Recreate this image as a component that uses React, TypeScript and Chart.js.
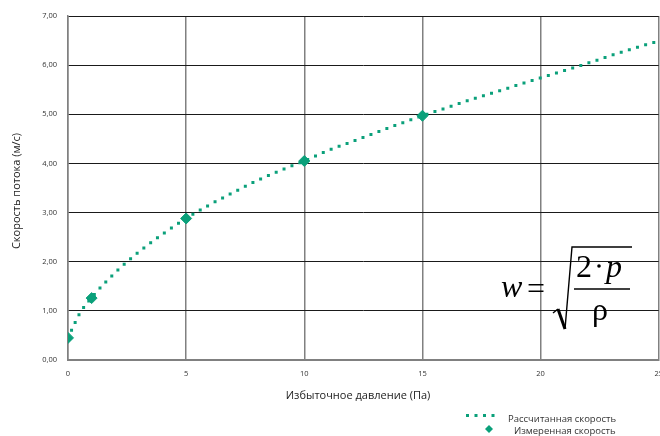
import React, { useEffect, useRef } from "react";
import { Chart, registerables } from "chart.js";

Chart.register(...registerables);

const curveP = [0, 0.5, 1, 2, 3, 4, 5, 6, 7, 8, 9, 10, 11, 12, 13, 14, 15, 16, 17, 18, 19, 20, 21, 22, 23, 24, 25];
const curveW = [0.45, 0.95, 1.27, 1.78, 2.2, 2.56, 2.88, 3.16, 3.41, 3.65, 3.86, 4.05, 4.26, 4.44, 4.62, 4.8, 4.97, 5.13, 5.29, 5.44, 5.59, 5.74, 5.89, 6.04, 6.2, 6.35, 6.49];
const measuredP = [0, 1, 5, 10, 15];
const measuredW = [0.45, 1.26, 2.88, 4.05, 4.97];
const xTicks = [0, 5, 10, 15, 20, 25];
const yTicks = [0, 1, 2, 3, 4, 5, 6, 7];

const seriesNames = ["Рассчитанная скорость", "Измеренная скорость"];
const xTitle = "Избыточное давление (Па)";
const yTitle = "Скорость потока (м/с)";

const GREEN = "#0aa07a";
const FONT = "'Open Sans', 'Noto Sans', sans-serif";
const SERIF = "'Liberation Serif', 'DejaVu Serif', serif";
const CANVAS_W = 666;

const overlay = {
  id: "overlay",
  afterDraw(chart: any) {
    const ctx = chart.ctx as CanvasRenderingContext2D;
    ctx.save();
    // axis titles
    ctx.fillStyle = "#222";
    ctx.font = `11px ${FONT}`;
    ctx.textAlign = "center";
    ctx.textBaseline = "middle";
    ctx.fillText(xTitle, 358, 396);
    ctx.save();
    ctx.translate(17, 191);
    ctx.rotate(-Math.PI / 2);
    ctx.fillText(yTitle, 0, 0);
    ctx.restore();

    // legend
    ctx.font = `9.5px ${FONT}`;
    ctx.textAlign = "left";
    ctx.fillStyle = GREEN;
    for (let i = 0; i < 4; i++) {
      ctx.fillRect(466 + i * 8.5, 414, 3, 3);
    }
    ctx.fillStyle = "#333";
    ctx.fillText(seriesNames[0], 508, 419);
    ctx.fillStyle = GREEN;
    ctx.beginPath();
    ctx.moveTo(489, 425);
    ctx.lineTo(493, 429);
    ctx.lineTo(489, 433);
    ctx.lineTo(485, 429);
    ctx.closePath();
    ctx.fill();
    ctx.fillStyle = "#333";
    ctx.fillText(seriesNames[1], 514, 431);

    // formula
    ctx.fillStyle = "#000";
    ctx.strokeStyle = "#000";
    ctx.textBaseline = "alphabetic";
    ctx.font = `italic 32px ${SERIF}`;
    ctx.fillText("w", 501, 297);
    ctx.font = `32px ${SERIF}`;
    ctx.fillText("=", 527, 299);
    ctx.fillText("2", 576, 277);
    ctx.beginPath();
    ctx.arc(599, 266, 1.8, 0, Math.PI * 2);
    ctx.fill();
    ctx.font = `italic 32px ${SERIF}`;
    ctx.fillText("p", 606, 277);
    ctx.font = `32px ${SERIF}`;
    ctx.fillText("ρ", 592, 320);
    // fraction bar
    ctx.lineWidth = 1.6;
    ctx.beginPath();
    ctx.moveTo(574, 289);
    ctx.lineTo(630, 289);
    ctx.stroke();
    // radical
    ctx.lineWidth = 1.4;
    ctx.beginPath();
    ctx.moveTo(553, 313);
    ctx.lineTo(558, 309);
    ctx.stroke();
    ctx.lineWidth = 3;
    ctx.beginPath();
    ctx.moveTo(558, 309);
    ctx.lineTo(565, 329);
    ctx.stroke();
    ctx.lineWidth = 1.4;
    ctx.beginPath();
    ctx.moveTo(565, 329);
    ctx.lineTo(572, 247);
    ctx.lineTo(632, 247);
    ctx.stroke();
    ctx.restore();
  },
};

export default function App() {
  const ref = useRef<HTMLCanvasElement>(null);
  useEffect(() => {
    if (!ref.current) return;
    const chart = new Chart(ref.current, {
      type: "scatter",
      data: {
        datasets: [
          {
            label: seriesNames[0],
            data: curveP.map((p, i) => ({ x: p, y: curveW[i] })),
            showLine: true,
            borderColor: GREEN,
            borderWidth: 3,
            borderDash: [0, 8.5],
            borderCapStyle: "square",
            cubicInterpolationMode: "monotone",
            pointRadius: 0,
            order: 2,
          },
          {
            label: seriesNames[1],
            data: measuredP.map((p, i) => ({ x: p, y: measuredW[i] })),
            showLine: false,
            pointStyle: "rectRot",
            pointRadius: 5.5,
            pointBackgroundColor: GREEN,
            pointBorderColor: GREEN,
            pointBorderWidth: 1,
            order: 1,
          },
        ],
      },
      options: {
        animation: false,
        responsive: false,
        maintainAspectRatio: false,
        layout: { padding: { top: 16, right: 0, left: 0, bottom: 0 } },
        plugins: { legend: { display: false }, tooltip: { enabled: false } },
        scales: {
          x: {
            type: "linear",
            min: 0,
            max: 25,
            afterBuildTicks: (s: any) => {
              s.ticks = xTicks.map((v) => ({ value: v }));
            },
            afterFit: (s: any) => {
              s.height = 76;
            },
            grid: {
              color: "#808080",
              lineWidth: 1.5,
              drawTicks: true,
              tickLength: 6,
              tickColor: "rgba(0,0,0,0)",
            },
            border: { display: true, color: "#808080", width: 2 },
            ticks: {
              padding: 3,
              color: "#333",
              font: { family: FONT, size: 7.5 },
              callback: (v: any) => String(v),
            },
          },
          y: {
            type: "linear",
            min: 0,
            max: 7,
            afterBuildTicks: (s: any) => {
              s.ticks = yTicks.map((v) => ({ value: v }));
            },
            afterFit: (s: any) => {
              s.width = 68;
            },
            grid: {
              color: (c: any) => (c.tick && c.tick.value === 0 ? "#808080" : "#1a1a1a"),
              lineWidth: 1,
              drawTicks: false,
            },
            border: { display: true, color: "#808080", width: 1.5 },
            ticks: {
              padding: 11,
              color: "#333",
              font: { family: FONT, size: 7.5 },
              callback: (v: any) => Number(v).toFixed(2).replace(".", ","),
            },
          },
        },
      },
      plugins: [overlay],
    } as any);
    return () => chart.destroy();
  }, []);
  return (
    <div style={{ position: "absolute", left: 0, top: 0, width: 660, height: 436, overflow: "hidden", background: "#fff" }}>
      <canvas ref={ref} width={CANVAS_W} height={436} style={{ width: CANVAS_W, height: 436, display: "block" }} />
    </div>
  );
}
